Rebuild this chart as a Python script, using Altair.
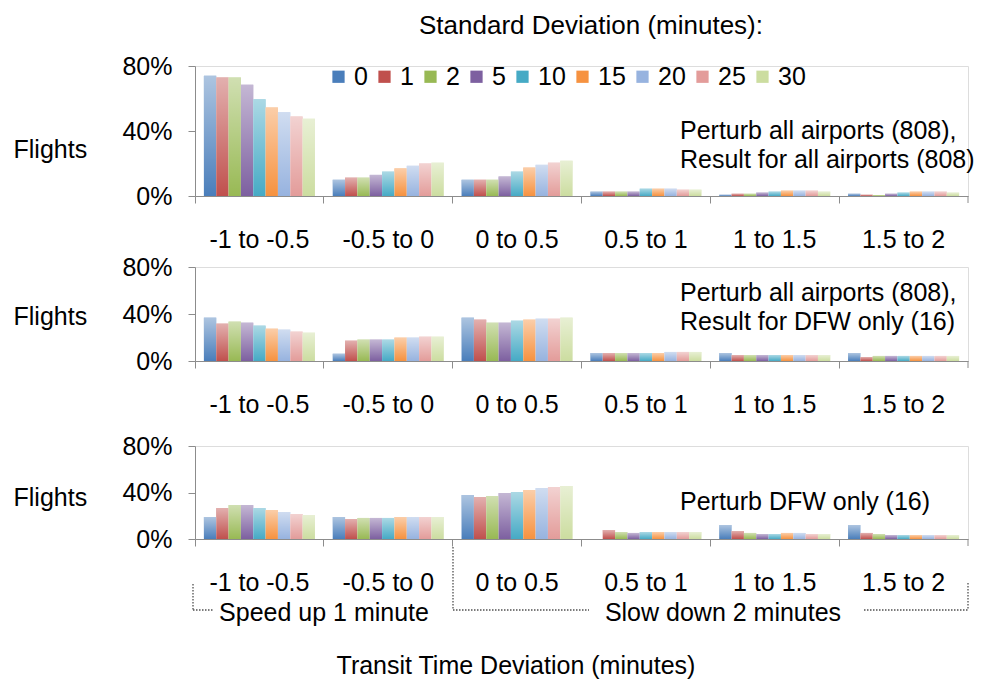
import altair as alt
import pandas as pd

categories = ["-1 to -0.5", "-0.5 to 0", "0 to 0.5", "0.5 to 1", "1 to 1.5", "1.5 to 2"]
std_devs = ["0", "1", "2", "5", "10", "15", "20", "25", "30"]
colors = ["#4A7EBB", "#C0504D", "#98B954", "#7D60A0", "#46AAC5",
          "#F69240", "#97B3DF", "#E39C9A", "#CCDDA0"]

# Percent of flights; one row per transit-time bin, one value per standard deviation
all_for_all = [
    [74.0, 73.0, 73.0, 68.5, 59.5, 54.5, 51.5, 49.0, 47.5],
    [10.0, 11.3, 11.3, 13.0, 15.0, 17.0, 18.6, 20.0, 20.5],
    [10.0, 10.0, 10.0, 12.0, 15.0, 17.5, 19.2, 20.5, 21.7],
    [2.7, 2.7, 2.7, 2.7, 4.5, 4.5, 4.5, 3.9, 3.9],
    [0.8, 1.4, 1.4, 2.1, 2.7, 3.3, 3.3, 3.3, 2.7],
    [1.4, 0.8, 0.6, 1.4, 2.1, 2.7, 2.7, 2.7, 2.1],
]
all_for_dfw = [
    [36.9, 31.8, 33.5, 32.6, 30.1, 27.5, 26.7, 25.0, 24.1],
    [6.2, 17.3, 18.2, 18.2, 18.2, 19.9, 19.9, 20.7, 20.7],
    [36.9, 35.2, 32.6, 32.6, 34.3, 35.2, 36.0, 36.0, 36.9],
    [6.8, 6.8, 6.8, 6.8, 6.8, 6.8, 7.7, 7.7, 7.7],
    [6.8, 5.1, 5.1, 5.1, 5.1, 5.1, 5.1, 5.1, 5.1],
    [6.8, 3.4, 4.3, 4.3, 4.3, 4.3, 4.3, 4.3, 4.3],
]
dfw_only = [
    [18.9, 26.6, 29.2, 29.2, 26.6, 24.9, 23.2, 21.5, 20.6],
    [18.9, 17.2, 18.1, 18.1, 18.1, 18.9, 18.9, 18.9, 18.9],
    [37.8, 36.1, 37.0, 39.5, 40.4, 42.1, 43.8, 44.7, 45.6],
    [0.0, 7.7, 6.0, 5.2, 6.0, 6.0, 6.0, 6.0, 6.0],
    [12.0, 6.9, 5.2, 4.3, 4.3, 5.2, 5.2, 4.3, 4.3],
    [12.0, 5.2, 4.3, 3.4, 3.4, 3.4, 3.4, 3.4, 3.4],
]

FONT = "Liberation Sans"
FS = 25
GRAY = "#8C8C8C"
W = 773


def to_df(rows):
    recs = []
    for c, vals in zip(categories, rows):
        for s, v in zip(std_devs, vals):
            recs.append({"cat": c, "sd": s, "pct": v})
    return pd.DataFrame(recs)


gradient = {
    "gradient": "linear", "x1": 0, "y1": 0, "x2": 0, "y2": 1,
    "stops": [
        {"offset": 0, "color": "rgba(255,255,255,0.55)"},
        {"offset": 1, "color": "rgba(255,255,255,0)"},
    ],
}

one = pd.DataFrame({"k": [0]})


def note(text, x, y, align="left", baseline="top", size=FS):
    return alt.Chart(pd.DataFrame({"t": [text]})).mark_text(
        align=align, baseline=baseline, fontSize=size, font=FONT,
        lineBreak="\n", lineHeight=29, color="black"
    ).encode(text="t:N", x=alt.value(x), y=alt.value(y))


def dotted(x, x2, y, y2):
    return alt.Chart(one).mark_rule(
        color="#505050", strokeDash=[1.5, 1.5], strokeWidth=1.3
    ).encode(x=alt.value(x), x2=alt.value(x2), y=alt.value(y), y2=alt.value(y2))


def panel(rows, height, title_y, legend=None):
    df = to_df(rows)
    base = alt.Chart(df)
    x = alt.X("cat:N", sort=categories,
              scale=alt.Scale(paddingInner=0, paddingOuter=0),
              axis=alt.Axis(title=None, bandPosition=0, tickSize=7,
                            labelPadding=24, labelFontSize=FS, labelFont=FONT,
                            labelAngle=0, labelColor="black",
                            domainColor=GRAY, tickColor=GRAY))
    xo = alt.XOffset("sd:N", sort=std_devs,
                     scale=alt.Scale(paddingInner=0, paddingOuter=0.72))
    y = alt.Y("pct:Q", scale=alt.Scale(domain=[0, 80]),
              axis=alt.Axis(values=[0, 40, 80], labelExpr="datum.value + '%'",
                            grid=False, tickSize=7, labelPadding=16,
                            labelFontSize=FS, labelFont=FONT, labelColor="black",
                            domainColor=GRAY, tickColor=GRAY,
                            title="Flights", titleAngle=0, titleAlign="left",
                            titleBaseline="middle", titleX=-182, titleY=title_y,
                            titleFontSize=FS, titleFont=FONT,
                            titleFontWeight="normal", titleColor="black"))
    color = alt.Color("sd:N", sort=std_devs,
                      scale=alt.Scale(domain=std_devs, range=colors),
                      legend=legend)
    bars = base.mark_bar().encode(x=x, xOffset=xo, y=y, color=color)
    shine = base.mark_bar(fill=gradient).encode(x=x, xOffset=xo, y=y)
    end_tick = alt.Chart(pd.DataFrame({"cat": [categories[-1]]})).mark_rule(
        color=GRAY
    ).encode(x=alt.X("cat:N", sort=categories, bandPosition=1),
             y=alt.value(height), y2=alt.value(height + 7))
    return bars, shine, end_tick


legend = alt.Legend(orient="none", legendX=131, legendY=-2, direction="horizontal",
                    columns=9, title=None, symbolType="square", symbolSize=150,
                    symbolStrokeWidth=0, labelFontSize=FS, labelFont=FONT,
                    labelColor="black", columnPadding=4, labelOffset=3)

b1, s1, t1 = panel(all_for_all, 130, 83, legend)
p1 = alt.layer(
    b1, s1, t1,
    note("Perturb all airports (808),\nResult for all airports (808)", 485, 53),
    note("Standard Deviation (minutes):", 396, -40, align="center",
         baseline="middle", size=26),
).properties(width=W, height=130)

b2, s2, t2 = panel(all_for_dfw, 94, 49)
p2 = alt.layer(
    b2, s2, t2,
    note("Perturb all airports (808),\nResult for DFW only (16)", 485, 14),
).properties(width=W, height=94)

b3, s3, t3 = panel(dfw_only, 93, 51)
p3 = alt.layer(
    b3, s3, t3,
    note("Perturb DFW only (16)", 485, 44),
    dotted(-2, -2, 138, 164),
    dotted(-2, 18, 164, 164),
    note("Speed up 1 minute", 129, 167, align="center", baseline="middle"),
    dotted(258, 258, 101, 164),
    dotted(258, 394, 164, 164),
    note("Slow down 2 minutes", 528, 167, align="center", baseline="middle"),
    dotted(669, 773, 164, 164),
    dotted(773, 773, 137, 164),
    note("Transit Time Deviation (minutes)", 321, 220, align="center", baseline="middle"),
).properties(width=W, height=93)

top = alt.vconcat(p1, p2, spacing=1).resolve_legend(color="independent")
chart = alt.vconcat(top, p3, spacing=15).resolve_legend(color="independent").properties(
    padding={"left": 4, "top": 4, "right": 0, "bottom": 0}
).configure_view(stroke=None).configure(font=FONT)

chart.save("out.html", embed_options={"renderer": "svg", "actions": False})
